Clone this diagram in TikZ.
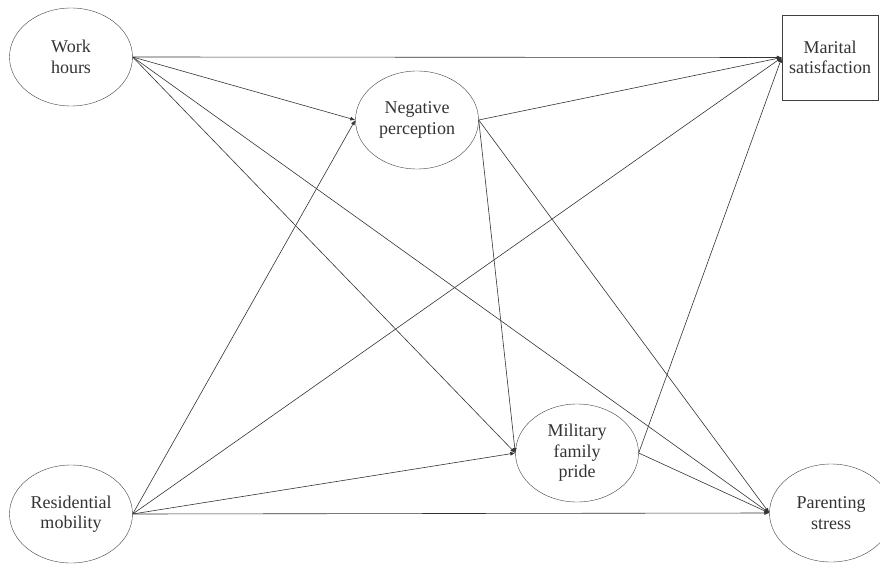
\documentclass[tikz,border=0pt]{standalone}
\usepackage{fontspec}
\setmainfont{Liberation Serif}
\usetikzlibrary{shapes.geometric,arrows.meta}

\begin{document}
\begin{tikzpicture}[x=1pt,y=-1pt,
	latent/.style={draw=black!75,ellipse,minimum width=123pt,minimum height=98pt,inner sep=0pt,align=center,text=black!80,font=\fontsize{18}{20.5}\selectfont},
	observed/.style={draw=black!75,rectangle,minimum width=96pt,minimum height=85pt,inner sep=0pt,align=center,text=black!80,font=\fontsize{18}{20.5}\selectfont},
	effect/.style={draw=black!80,line width=0.6pt,-{Latex[length=5pt,width=4pt]}}]
	\useasboundingbox (0,0) rectangle (880,564);
	% exogenous
	\node [latent] (work) at (71,57) {Work\\hours};
	\node [latent] (resid) at (71,514) {Residential\\mobility};
	% mediators
	\node [latent] (neg) at (417,120) {Negative\\perception};
	\node [latent] (pride) at (577,453) {Military\\family\\pride};
	% outcomes
	\node [observed] (marital) at (830,57.5) {Marital\\satisfaction};
	\node [latent] (parent) at (831,513) {Parenting\\stress};
	% paths
	\draw [effect] (work.east) -- (marital.west);
	\draw [effect] (work.east) -- (neg.west);
	\draw [effect] (work.east) -- (pride.west);
	\draw [effect] (work.east) -- (parent.west);
	\draw [effect] (resid.east) -- (neg.west);
	\draw [effect] (resid.east) -- (marital.west);
	\draw [effect] (resid.east) -- (pride.west);
	\draw [effect] (resid.east) -- (parent.west);
	\draw [effect] (neg.east) -- (marital.west);
	\draw [effect] (neg.east) -- (pride.west);
	\draw [effect] (neg.east) -- (parent.west);
	\draw [effect] (pride.east) -- (marital.west);
	\draw [effect] (pride.east) -- (parent.west);
\end{tikzpicture}
\end{document}
